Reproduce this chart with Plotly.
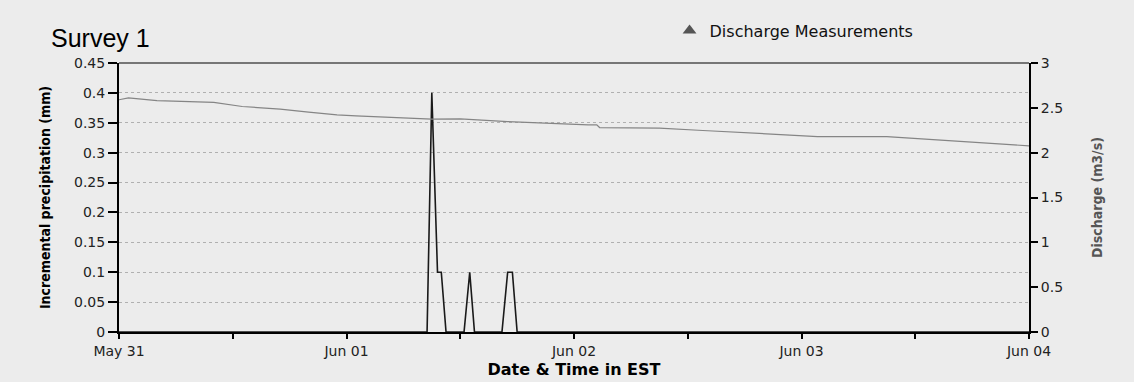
import plotly.graph_objects as go

# Incremental precipitation (mm), left axis
precip_time = [
    "2011-05-31 00:00", "2011-06-01 08:30", "2011-06-01 09:00", "2011-06-01 09:36",
    "2011-06-01 10:00", "2011-06-01 10:30", "2011-06-01 12:24", "2011-06-01 13:00",
    "2011-06-01 13:30", "2011-06-01 16:24", "2011-06-01 17:00", "2011-06-01 17:30",
    "2011-06-01 18:00", "2011-06-04 00:00",
]
precip_mm = [0, 0, 0.4, 0.1, 0.1, 0, 0, 0.1, 0, 0, 0.1, 0.1, 0, 0]

# Discharge (m3/s), right axis
discharge_time = [
    "2011-05-31 00:00", "2011-05-31 01:00", "2011-05-31 04:00", "2011-05-31 10:00",
    "2011-05-31 13:00", "2011-05-31 17:00", "2011-05-31 20:00", "2011-05-31 23:00",
    "2011-06-01 01:00", "2011-06-01 05:00", "2011-06-01 09:00", "2011-06-01 12:00",
    "2011-06-01 17:00", "2011-06-02 01:30", "2011-06-02 02:24", "2011-06-02 02:42",
    "2011-06-02 09:00", "2011-06-02 13:36", "2011-06-02 20:42", "2011-06-03 01:42",
    "2011-06-03 09:00", "2011-06-03 16:24", "2011-06-04 00:00",
]
discharge_m3s = [
    2.59, 2.61, 2.58, 2.56, 2.515, 2.486, 2.452, 2.422, 2.411, 2.392, 2.374, 2.377,
    2.347, 2.31, 2.31, 2.28, 2.273, 2.247, 2.206, 2.18, 2.18, 2.131, 2.076,
]

# Discharge measurements: no measurement falls in this window
measure_time = [None]
measure_m3s = [None]

BG = "#ececec"
TICK_FONT = dict(family="DejaVu Sans, Verdana, sans-serif", size=14, color="#222")
NARROW = "Liberation Sans Narrow, DejaVu Sans Condensed, Arial Narrow, sans-serif"

fig = go.Figure()

fig.add_trace(go.Scatter(
    x=discharge_time, y=discharge_m3s, yaxis="y2", mode="lines",
    line=dict(color="#858585", width=1.2), showlegend=False, name="Discharge",
))
fig.add_trace(go.Scatter(
    x=precip_time, y=precip_mm, mode="lines",
    line=dict(color="#1a1a1a", width=1.6), showlegend=False,
    name="Incremental precipitation",
))
fig.add_trace(go.Scatter(
    x=measure_time, y=measure_m3s, yaxis="y2", mode="markers",
    marker=dict(symbol="triangle-up", size=12, color="#555"),
    name="Discharge Measurements", showlegend=True,
))

fig.update_layout(
    width=1134, height=382,
    margin=dict(l=119, r=105, t=63, b=50, autoexpand=False),
    paper_bgcolor=BG, plot_bgcolor=BG,
    showlegend=True,
    legend=dict(
        orientation="h", x=0.605, y=1.12, xanchor="left", yanchor="middle",
        bgcolor="rgba(0,0,0,0)", itemwidth=30,
        font=dict(family="DejaVu Sans, Verdana, sans-serif", size=16, color="#111"),
    ),
    xaxis=dict(
        type="date", range=["2011-05-31", "2011-06-04"], automargin=False,
        dtick=86400000, tick0="2011-05-31", tickformat="%b %d",
        showgrid=False, zeroline=False,
        showline=True, linecolor="#000", linewidth=2,
        ticks="outside", ticklen=5, tickwidth=2, tickcolor="#000",
        minor=dict(dtick=43200000, ticks="outside", ticklen=5, tickwidth=2,
                   tickcolor="#000", showgrid=False),
        tickfont=TICK_FONT,
        title=dict(text="<b>Date &amp; Time in EST</b>", standoff=6,
                   font=dict(family="DejaVu Sans, Verdana, sans-serif", size=16, color="#000")),
    ),
    yaxis=dict(
        range=[0, 0.45], dtick=0.05, tick0=0, automargin=False,
        showgrid=True, gridcolor="#b0b0b0", griddash="dot", gridwidth=1,
        zeroline=False,
        showline=True, linecolor="#000", linewidth=2,
        ticks="outside", ticklen=9, tickwidth=1.5, tickcolor="#000",
        tickfont=TICK_FONT,
        title=dict(text="<b>Incremental precipitation (mm)</b>", standoff=20,
                   font=dict(family=NARROW, size=14, color="#000")),
    ),
    yaxis2=dict(
        overlaying="y", side="right", automargin=False,
        range=[0, 3], dtick=0.5, tick0=0,
        showgrid=False, zeroline=False,
        showline=True, linecolor="#000", linewidth=2,
        ticks="outside", ticklen=7, tickwidth=1.5, tickcolor="#000",
        tickfont=TICK_FONT,
        title=dict(text="<b>Discharge (m3/s)</b>", standoff=30,
                   font=dict(family=NARROW, size=14, color="#555")),
    ),
    annotations=[
        dict(text="Survey 1", xref="paper", yref="paper", x=-0.077, y=1.035,
             xanchor="left", yanchor="bottom", showarrow=False,
             font=dict(family="Liberation Sans, Arial, sans-serif", size=25, color="#000")),
    ],
    shapes=[
        dict(type="line", xref="paper", yref="paper", x0=0, x1=1, y0=1, y1=1,
             line=dict(color="#000", width=1)),
    ],
)

fig.write_html("out.html")
